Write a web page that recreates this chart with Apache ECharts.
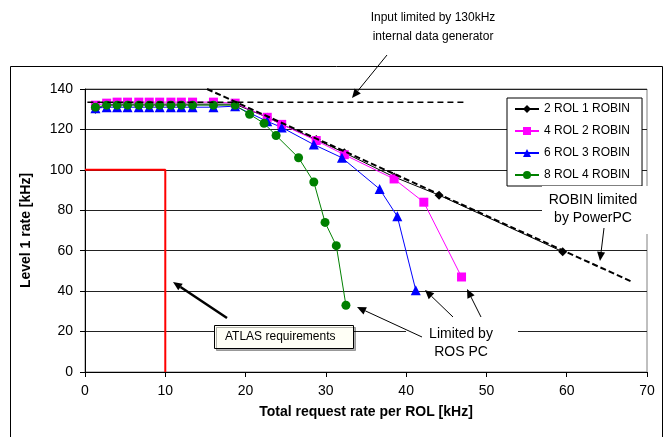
<!DOCTYPE html>
<html>
<head>
<meta charset="utf-8">
<script src="https://cdn.jsdelivr.net/npm/echarts@6/dist/echarts.min.js"></script>
<style>
  html, body { margin: 0; padding: 0; background: #fff; }
  #chart { width: 671px; height: 437px; }
</style>
</head>
<body>
<div id="chart"></div>
<script>
// data
const seriesNames = ['2 ROL 1 ROBIN', '4 ROL 2 ROBIN', '6 ROL 3 ROBIN', '8 ROL 4 ROBIN'];

const rol2 = [[1.3,130],[2.7,132],[4.0,132.5],[5.3,132.5],[6.7,132.5],[8.0,132.5],[9.3,132.5],[10.7,132.5],
  [12.0,132.5],[13.4,132.5],[16.0,132.5],[18.7,132.5],[22.7,126],[24.5,122.5],[28.8,115],[32.3,108.5],
  [38.5,96.5],[44.1,87.5],[59.5,59.5]];
const rol4 = [[1.3,132],[2.7,133],[4.0,133.5],[5.3,133.5],[6.7,133.5],[8.0,133.5],[9.3,133.5],[10.7,133.5],
  [12.0,133.5],[13.4,133.5],[16.0,133.5],[18.7,133],[22.7,126],[24.5,122.5],[28.8,114.5],[32.3,107.5],
  [38.5,95.5],[42.2,84],[46.9,47]];
const rol6 = [[1.3,130.5],[2.7,131],[4.0,131],[5.3,131],[6.7,131],[8.0,131],[9.3,131],[10.7,131],
  [12.0,131],[13.4,131],[16.0,131],[18.7,131.5],[22.7,124],[24.5,121],[28.5,112.5],[32.0,106],
  [36.7,90.5],[38.9,77],[41.2,40.5]];
const rol8 = [[1.3,131],[2.7,132],[4.0,132],[5.3,132],[6.7,132],[8.0,132],[9.3,132],[10.7,132],
  [12.0,132],[13.4,132],[16.0,132],[18.7,132],[20.5,127.5],[22.3,123],[23.8,117],[26.6,106],
  [28.5,94],[29.9,74],[31.3,62.5],[32.5,33]];

// reference lines
const inputLimit = [[0.3,133.5],[47.5,133.5]];
const robinLimit = [[15.2,140],[68.2,44.5]];
const atlasReq = [[0,100],[10,100],[10,0]];

const xTicks = [0, 70, 10];
const yTicks = [0, 140, 20];

const FONT = 'Liberation Sans';
const chart = echarts.init(document.getElementById('chart'));

function arrow(x1, y1, x2, y2, w) {
  const a = Math.atan2(y2 - y1, x2 - x1);
  const len = 9, half = 4;
  const bx = x2 - len * Math.cos(a), by = y2 - len * Math.sin(a);
  const px = -Math.sin(a) * half, py = Math.cos(a) * half;
  return [
    { type: 'line', z: 20, shape: { x1: x1, y1: y1, x2: bx, y2: by }, style: { stroke: '#000', lineWidth: w } },
    { type: 'polygon', z: 20, shape: { points: [[x2, y2], [bx + px, by + py], [bx - px, by - py]] }, style: { fill: '#000' } }
  ];
}

function label(x, y, text, size) {
  return { type: 'text', z: 21, x: x, y: y,
    style: { text: text, font: size + 'px "' + FONT + '"', fill: '#000', align: 'center', verticalAlign: 'middle', lineHeight: 18 } };
}

const dataSeries = [
  { data: rol2, color: '#000000', symbol: 'diamond', symbolSize: 9 },
  { data: rol4, color: '#ff00ff', symbol: 'rect', symbolSize: 9 },
  { data: rol6, color: '#0000ff', symbol: 'triangle', symbolSize: 10 },
  { data: rol8, color: '#008000', symbol: 'circle', symbolSize: 9 }
].map((s, i) => ({
  name: seriesNames[i],
  type: 'line',
  data: s.data,
  symbol: s.symbol,
  symbolSize: s.symbolSize,
  itemStyle: { color: s.color },
  lineStyle: { color: s.color, width: 1 },
  animation: false,
  z: 3
}));

const refSeries = [
  { name: 'input', type: 'line', data: inputLimit, symbol: 'none', animation: false, z: 4,
    lineStyle: { color: '#000', width: 1.5, type: [6, 4] } },
  { name: 'robin', type: 'line', data: robinLimit, symbol: 'none', animation: false, z: 4,
    lineStyle: { color: '#000', width: 2, type: [6, 3] } },
  { name: 'atlas', type: 'line', data: atlasReq, symbol: 'none', animation: false, z: 2,
    lineStyle: { color: '#ff0000', width: 2 } }
];

const graphics = [
  // outer chart frame
  { type: 'rect', z: 30, shape: { x: 10.5, y: 66.5, width: 652, height: 400 }, style: { fill: 'none', stroke: '#000', lineWidth: 1 } },
  // white boxes behind text
  { type: 'rect', z: 15, shape: { x: 542, y: 186, width: 110, height: 48 }, style: { fill: '#fff' } },
  { type: 'rect', z: 15, shape: { x: 406, y: 322, width: 112, height: 40 }, style: { fill: '#fff' } },
  { type: 'rect', z: 15, shape: { x: 214.5, y: 325.5, width: 139, height: 23 },
    style: { fill: '#fffff6', stroke: '#000', lineWidth: 1, shadowColor: 'rgba(0,0,0,0.3)', shadowOffsetX: 2, shadowOffsetY: 2 } },
  { type: 'text', z: 21, x: 225, y: 337,
    style: { text: 'ATLAS requirements', font: '12px "' + FONT + '"', fill: '#000', verticalAlign: 'middle' } },
  label(433, 18, 'Input limited by 130kHz', 12),
  label(433, 37, 'internal data generator', 12),
  label(593, 200, 'ROBIN limited', 14),
  label(593, 218, 'by PowerPC', 14),
  label(461, 334, 'Limited by', 14),
  label(461, 352, 'ROS PC', 14)
]
  .concat(arrow(387, 55, 352, 98, 1))
  .concat(arrow(604, 228, 600, 261, 1))
  .concat(arrow(453, 317, 425, 290, 1))
  .concat(arrow(481, 317, 467, 289, 1))
  .concat(arrow(422, 337, 357, 307, 1))
  .concat(arrow(227, 318, 173, 282, 2.5));

chart.setOption({
  animation: false,
  textStyle: { fontFamily: FONT },
  grid: { left: 85, right: 24, top: 89, bottom: 65, show: true, borderColor: '#808080', borderWidth: 1 },
  xAxis: {
    type: 'value', min: xTicks[0], max: xTicks[1], interval: xTicks[2],
    name: 'Total request rate per ROL [kHz]', nameLocation: 'middle', nameGap: 33,
    nameTextStyle: { fontSize: 14, fontWeight: 'bold', color: '#000', fontFamily: FONT },
    axisLine: { show: true, lineStyle: { color: '#000', width: 1 } },
    axisTick: { show: true, length: 5, lineStyle: { color: '#000' } },
    axisLabel: { fontSize: 14, color: '#000', margin: 12, fontFamily: FONT },
    splitLine: { show: false }
  },
  yAxis: {
    type: 'value', min: yTicks[0], max: yTicks[1], interval: yTicks[2],
    name: 'Level 1 rate [kHz]', nameLocation: 'middle', nameGap: 52, nameRotate: 90,
    nameTextStyle: { fontSize: 14, fontWeight: 'bold', color: '#000', fontFamily: FONT },
    axisLine: { show: true, lineStyle: { color: '#000', width: 1 } },
    axisTick: { show: true, length: 5, lineStyle: { color: '#000' } },
    axisLabel: { fontSize: 14, color: '#000', margin: 12, fontFamily: FONT },
    splitLine: { show: true, lineStyle: { color: '#222', width: 1 } }
  },
  legend: {
    data: seriesNames,
    orient: 'vertical',
    left: 507, top: 98,
    width: 131,
    padding: [5, 12, 5, 7],
    itemWidth: 24, itemHeight: 10, itemGap: 10,
    backgroundColor: '#fff', borderColor: '#000', borderWidth: 1, borderRadius: 0,
    textStyle: { fontSize: 12, color: '#000', fontFamily: FONT },
    z: 10
  },
  series: dataSeries.concat(refSeries),
  graphic: graphics
});
</script>
</body>
</html>
